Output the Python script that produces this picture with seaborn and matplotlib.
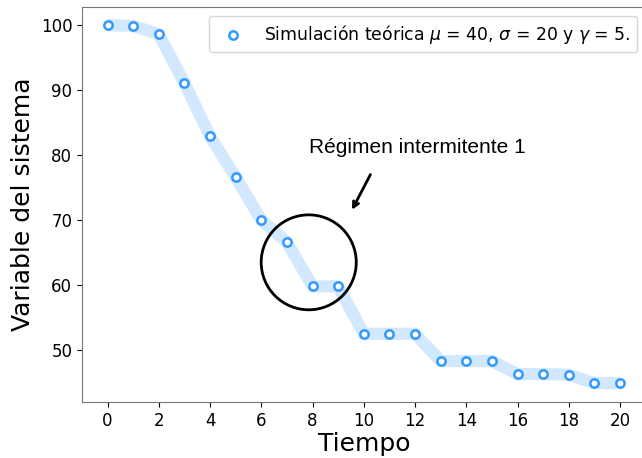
import matplotlib
matplotlib.use("Agg")
import matplotlib.pyplot as plt
import seaborn as sns
import pandas as pd
from matplotlib.patches import Ellipse

tiempo = list(range(21))
valores = [100.0, 99.9, 98.6, 91.1, 82.9, 76.6, 70.0, 66.6, 59.8, 59.8,
           52.5, 52.5, 52.5, 48.3, 48.3, 48.3, 46.3, 46.3, 46.2, 44.9, 44.9]
etiqueta = r"Simulación teórica $\mu$ = 40, $\sigma$ = 20 y $\gamma$ = 5."

df = pd.DataFrame({"Tiempo": tiempo, "Valor": valores})

fig = plt.figure(figsize=(6.42, 4.58), dpi=100)
ax = fig.add_axes([82/642, 56/458, 563.6/642, 395/458])

sns.lineplot(data=df, x="Tiempo", y="Valor", ax=ax, color="#1e90ff",
             alpha=0.2, linewidth=8.8, solid_capstyle="butt",
             solid_joinstyle="round")
sns.scatterplot(data=df, x="Tiempo", y="Valor", ax=ax, marker="o",
                facecolor="white", edgecolor="#3399ff", linewidth=1.8,
                s=36, label=etiqueta, zorder=3)

ax.set_xlim(-1, 21)
ax.set_ylim(42.0, 102.8)
ax.set_xticks(range(0, 21, 2))
ax.set_yticks(range(50, 101, 10))
ax.tick_params(labelsize=12)
ax.set_xlabel("Tiempo", fontsize=18, labelpad=2)
ax.set_ylabel("Variable del sistema", fontsize=18)
for s in ax.spines.values():
    s.set_color("#777777")

leg = ax.legend(loc="upper right", fontsize=12.4, frameon=True)

ax.add_patch(Ellipse((7.85, 63.5), 95/25.6, 95/6.5, fill=False,
                     edgecolor="black", linewidth=2, zorder=4))
ax.annotate("", xy=(9.49, 71.2), xytext=(10.31, 77.4),
            arrowprops=dict(arrowstyle="->", color="black", lw=2))
ax.text(12.07, 81.2, "Régimen intermitente 1", ha="center", va="center",
        fontsize=15, family=["Liberation Sans", "DejaVu Sans"])

fig.savefig("out.png", dpi=100)
